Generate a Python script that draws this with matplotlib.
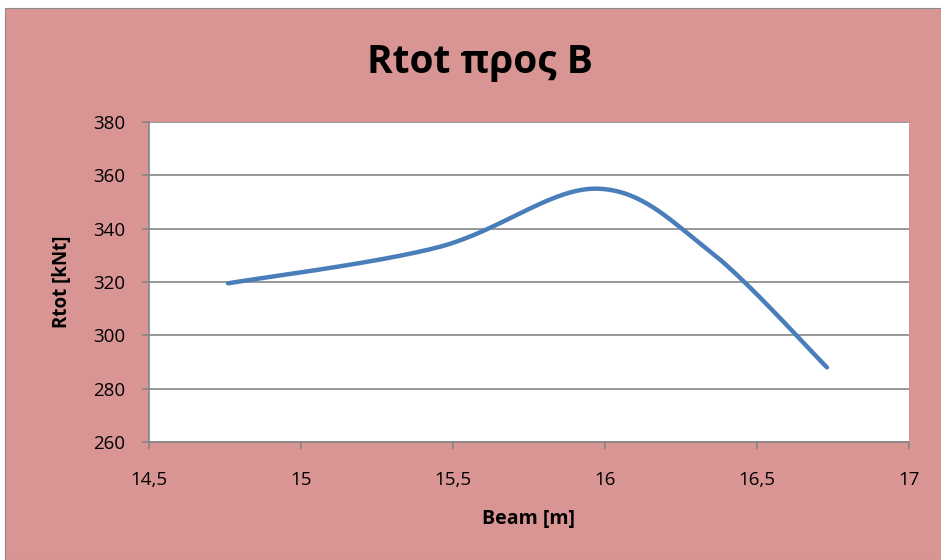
import matplotlib.pyplot as plt
import numpy as np
from matplotlib.patches import Rectangle

# Rtot vs beam width
beam = [14.76, 15.45, 15.97, 16.34, 16.73]
rtot = [319.5, 333.0, 355.0, 332.0, 288.0]

title = 'Rtot προς B'
xlabel = 'Beam [m]'
ylabel = 'Rtot [kNt]'
xticks = [14.5, 15, 15.5, 16, 16.5, 17]
yticks = [260, 280, 300, 320, 340, 360, 380]

plt.rcParams['font.family'] = ['Open Sans', 'DejaVu Sans']


def smooth(xs, ys, n=60):
    # Catmull-Rom style bezier smoothing, same idea as spreadsheet "smoothed line"
    p = np.column_stack([xs, ys])
    p = np.vstack([p[0], p, p[-1]])
    out = []
    t = np.linspace(0, 1, n)[:, None]
    for i in range(1, len(p) - 2):
        p0, p1, p2, p3 = p[i - 1], p[i], p[i + 1], p[i + 2]
        c1 = p1 + (p2 - p0) / 6
        c2 = p2 - (p3 - p1) / 6
        seg = ((1 - t) ** 3) * p1 + 3 * ((1 - t) ** 2) * t * c1 \
            + 3 * (1 - t) * t ** 2 * c2 + t ** 3 * p2
        out.append(seg)
    out = np.vstack(out)
    return out[:, 0], out[:, 1]


fig = plt.figure(figsize=(9.41, 5.6), dpi=100)
fig.patch.set_facecolor('white')
bg = Rectangle((5 / 941, 0), 1, 552 / 560, transform=fig.transFigure,
               facecolor='#d99594', edgecolor='#8c8c8c', lw=0.8, zorder=-10)
fig.add_artist(bg)

ax = fig.add_axes([149 / 941, 118 / 560, 760 / 941, 320 / 560])
ax.set_zorder(1)
ax.set_facecolor('white')

sx, sy = smooth(beam, rtot)
ax.plot(sx, sy, color='#4a7ebb', lw=3.2, solid_capstyle='round', zorder=3)

ax.set_xlim(14.5, 17)
ax.set_ylim(260, 380)
ax.set_xticks(xticks)
ax.set_yticks(yticks)
ax.set_xticklabels([str(v).replace('.', ',') for v in xticks])
ax.set_yticklabels([str(v) for v in yticks])
ax.grid(axis='y', color='#868686', lw=1.2)
ax.set_axisbelow(True)
for side in ['top', 'right']:
    ax.spines[side].set_visible(False)
for side in ['left', 'bottom']:
    ax.spines[side].set_color('#868686')
    ax.spines[side].set_linewidth(1.2)
ax.tick_params(axis='both', direction='out', color='#868686', width=1.2, length=5,
               labelsize=13.5)
ax.tick_params(axis='y', pad=12)
ax.tick_params(axis='x', pad=16)

fig.text(480 / 941, 1 - 62 / 560, title, ha='center', va='center',
         fontsize=28, fontweight='bold')
fig.text(528 / 941, 1 - 519 / 560, xlabel, ha='center', va='center',
         fontsize=14, fontweight='bold')
fig.text(62 / 941, 1 - 282 / 560, ylabel, ha='center', va='center',
         fontsize=13.5, fontweight='bold', rotation=90)

fig.savefig('out.png', dpi=100, facecolor=fig.get_facecolor())
